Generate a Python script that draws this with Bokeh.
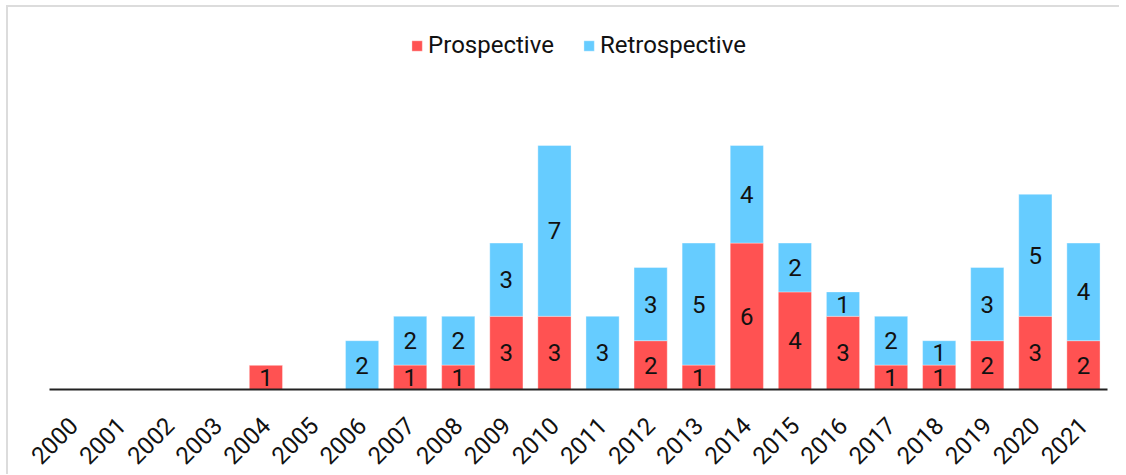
import math
from bokeh.plotting import figure
from bokeh.models import ColumnDataSource
from bokeh.core.properties import value
from bokeh.embed import file_html
from bokeh.resources import INLINE

years = [str(y) for y in range(2000, 2022)]
prospective = [0, 0, 0, 0, 1, 0, 0, 1, 1, 3, 3, 0, 2, 1, 6, 4, 3, 1, 1, 2, 3, 2]
retrospective = [0, 0, 0, 0, 0, 0, 2, 2, 2, 3, 7, 3, 3, 5, 4, 2, 1, 2, 1, 3, 5, 4]

RED = "#FF5252"
BLUE = "#66CCFF"
FONT = "Roboto"

source = ColumnDataSource(dict(year=years, Prospective=prospective, Retrospective=retrospective))

p = figure(
    x_range=years, y_range=(0, 15),
    frame_width=1058, frame_height=366,
    min_border_left=41, min_border_right=12, min_border_top=16, min_border_bottom=0,
    output_backend="svg", toolbar_location=None,
)
p.styles = {"border-top": "2px solid #dcdcdc", "border-left": "2px solid #dcdcdc",
            "margin-left": "6px", "margin-top": "5px"}

p.vbar_stack(["Prospective", "Retrospective"], x="year", width=0.69, color=[RED, BLUE],
             line_color="white", line_alpha=0.35, line_width=1,
             source=source, legend_label=["Prospective", "Retrospective"])

# labels
lx, ly, lt = [], [], []
for y, a, b in zip(years, prospective, retrospective):
    if a > 0:
        lx.append(y); ly.append(a / 2); lt.append(str(a))
    if b > 0:
        lx.append(y); ly.append(a + b / 2); lt.append(str(b))
p.text(x=lx, y=ly, text=lt, text_align="center", text_baseline="middle",
       text_font=value(FONT), text_font_size="24px", text_color="#111111")

p.yaxis.visible = False
p.xgrid.grid_line_color = None
p.ygrid.grid_line_color = None
p.outline_line_color = None
p.x_range.range_padding = 0
xa = p.xaxis[0]
xa.axis_line_color = "#222222"
xa.axis_line_width = 2
xa.major_tick_line_color = None
xa.minor_tick_line_color = None
xa.major_label_orientation = math.pi / 4
xa.major_label_text_font = FONT
xa.major_label_text_font_size = "24px"
xa.major_label_text_color = "#111111"
xa.major_label_standoff = 26

lg = p.legend[0]
lg.location = "top_center"
lg.orientation = "horizontal"
lg.border_line_color = None
lg.background_fill_alpha = 0
lg.label_text_font = FONT
lg.label_text_font_size = "24px"
lg.label_text_color = "#111111"
lg.glyph_width = 13
lg.glyph_height = 13
lg.label_standoff = 5
lg.spacing = 28
lg.margin = 8
lg.padding = 4

open("out.html", "w").write(file_html(p, INLINE))
